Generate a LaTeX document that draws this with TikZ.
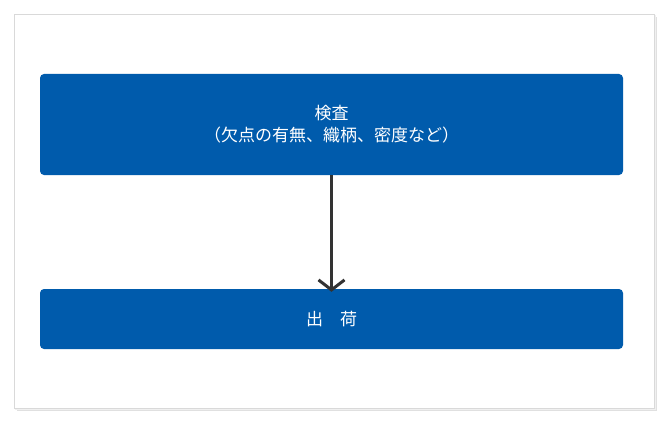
\documentclass[tikz,border=0pt]{standalone}
\usepackage{fontspec}
\newfontfamily\cjk{Noto Sans CJK JP}
\usetikzlibrary{arrows.meta}
\definecolor{boxblue}{HTML}{005BAC}
\definecolor{arr}{HTML}{333333}
\tikzset{stepbox/.style={fill=boxblue,rounded corners=4pt,text=white,font=\cjk\fontsize{17}{22}\selectfont,align=center,minimum width=583pt,inner sep=0pt}}
\begin{document}
\begin{tikzpicture}[x=1pt,y=-1pt]
\useasboundingbox (0,0) rectangle (668,422);
\fill[black!12] (17,17) rectangle (657,411);
\fill[black!6] (15,15) rectangle (656,410);
\fill[white,draw=black!15] (14,14) rectangle (654,408);
\node[stepbox,minimum height=101pt] (a) at (331.5,124.5) {検査\\（欠点の有無、織柄、密度など）};
\node[stepbox,minimum height=60pt] (b) at (331.5,319) {出\hspace{1em}荷};
\draw[arr,line width=3pt,-{Straight Barb[length=10pt,width=26pt,line width=3pt]}] (a.south) -- ([yshift=-3pt]b.north);
\end{tikzpicture}
\end{document}
